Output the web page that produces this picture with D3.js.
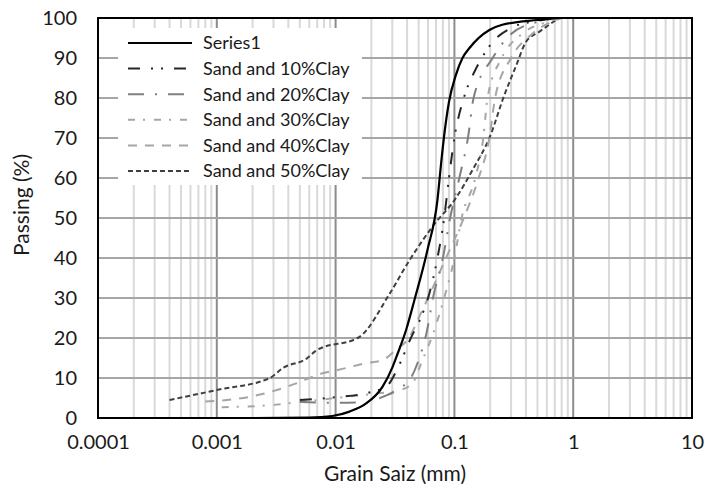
<!DOCTYPE html>
<html>
<head>
<meta charset="utf-8">
<script src="https://cdn.jsdelivr.net/npm/d3@7"></script>
<style>
  html, body { margin: 0; padding: 0; background: #fff; }
  svg { display: block; }
  text { font-family: Lato, "Open Sans", sans-serif; fill: #1a1a1a; }
</style>
</head>
<body>
<svg id="chart" width="705" height="490"></svg>
<script>
// ---- data (grain size in mm, percent passing) ----
const seriesNames = ["Series1", "Sand and 10%Clay", "Sand and 20%Clay", "Sand and 30%Clay", "Sand and 40%Clay", "Sand and 50%Clay"];

const series1 = [[0.002,0],[0.006,0.1],[0.0094,0.5],[0.0131,1.6],[0.0182,3.7],[0.0248,7.8],[0.0302,12.8],[0.0332,16],[0.0392,22],[0.0461,29.5],[0.0593,42],[0.072,54.5],[0.0775,64],[0.0823,71],[0.09,79],[0.103,85.8],[0.117,90],[0.134,92.5],[0.197,97],[0.253,98.3],[0.5,99.5],[0.76,100],[4.75,100]];
const clay10 = [[0.005,4.5],[0.01,5.2],[0.02,6.5],[0.027,8],[0.034,13],[0.043,20],[0.052,25],[0.06,30],[0.072,40],[0.082,50],[0.09,60],[0.1,70],[0.12,80],[0.15,87],[0.17,90],[0.21,94],[0.3,97.5],[0.5,99.3],[0.8,100]];
const clay20 = [[0.005,4],[0.01,3.8],[0.018,4],[0.026,5.5],[0.035,7.5],[0.043,10],[0.052,16],[0.058,21],[0.066,30],[0.08,40],[0.092,50],[0.11,60],[0.13,70],[0.145,80],[0.21,90],[0.3,96],[0.5,99],[0.8,100]];
const clay30 = [[0.0011,2.7],[0.0028,3.2],[0.005,4],[0.01,5],[0.02,6],[0.035,7],[0.045,9],[0.053,14],[0.066,21],[0.082,30],[0.1,40],[0.115,50],[0.15,60],[0.175,70],[0.19,80],[0.25,90],[0.37,96],[0.6,99],[0.8,100]];
const clay40 = [[0.0008,4.1],[0.0019,5.3],[0.0032,7],[0.0047,8.7],[0.0078,11.2],[0.0104,12],[0.018,13.7],[0.025,14.5],[0.032,17],[0.042,20.3],[0.05,25],[0.06,30],[0.085,40],[0.12,50],[0.16,60],[0.197,70],[0.22,80],[0.3,90],[0.45,96],[0.65,99],[0.8,100]];
const clay50 = [[0.0004,4.5],[0.001,7],[0.0028,10],[0.0036,12.5],[0.0058,15],[0.0068,16.8],[0.0159,20.3],[0.0284,31],[0.042,39.5],[0.066,48],[0.103,55],[0.142,62],[0.2,70.5],[0.263,80.7],[0.33,88],[0.4,94],[0.52,96.6],[0.76,100]];

const xTicks = [0.0001, 0.001, 0.01, 0.1, 1, 10];
const xTickLabels = ["0.0001", "0.001", "0.01", "0.1", "1", "10"];
const yTicks = [0, 10, 20, 30, 40, 50, 60, 70, 80, 90, 100];

// ---- styles ----
const styles = [
  { color: "#000000", dash: null, width: 2.2 },
  { color: "#262626", dash: "12,11,2,8,2,11", width: 2 },
  { color: "#7f7f7f", dash: "16,11,2,11", width: 2 },
  { color: "#a6a6a6", dash: "7,8,2,9", width: 2 },
  { color: "#a6a6a6", dash: "9,8", width: 2 },
  { color: "#404040", dash: "5,3", width: 2 }
];
const allSeries = [series1, clay10, clay20, clay30, clay40, clay50];

const svg = d3.select("#chart");
const L = 98, R = 692, T = 18, B = 418;
const x = d3.scaleLog().domain([1e-4, 10]).range([L, R]);
const y = d3.scaleLinear().domain([0, 100]).range([B, T]);

// minor vertical grid
const minors = [];
for (let e = -4; e < 1; e++) for (let m = 2; m <= 9; m++) minors.push(m * Math.pow(10, e));
svg.append("g").selectAll("line").data(minors).join("line")
  .attr("x1", d => x(d)).attr("x2", d => x(d)).attr("y1", T).attr("y2", B)
  .attr("stroke", "#d9d9d9").attr("stroke-width", 2);
// major vertical grid
svg.append("g").selectAll("line").data(xTicks.slice(1, -1)).join("line")
  .attr("x1", d => x(d)).attr("x2", d => x(d)).attr("y1", T).attr("y2", B)
  .attr("stroke", "#8c8c8c").attr("stroke-width", 2);
// horizontal grid
svg.append("g").selectAll("line").data(yTicks.slice(1, -1)).join("line")
  .attr("x1", L).attr("x2", R).attr("y1", d => y(d)).attr("y2", d => y(d))
  .attr("stroke", "#a6a6a6").attr("stroke-width", 2);

// legend background
svg.append("rect").attr("x", 118).attr("y", 28).attr("width", 244).attr("height", 157).attr("fill", "#fff");

// series lines
const line = d3.line().x(d => x(d[0])).y(d => y(d[1])).curve(d3.curveMonotoneX);
const order = [5, 4, 3, 2, 1, 0];
order.forEach(i => {
  svg.append("path").datum(allSeries[i]).attr("d", line)
    .attr("fill", "none").attr("stroke", styles[i].color)
    .attr("stroke-width", styles[i].width)
    .attr("stroke-dasharray", styles[i].dash)
    .attr("stroke-linejoin", "round");
});

// plot border
svg.append("rect").attr("x", L).attr("y", T).attr("width", R - L).attr("height", B - T)
  .attr("fill", "none").attr("stroke", "#000").attr("stroke-width", 2);

// axes (labels only)
const xAxis = d3.axisBottom(x).tickValues(xTicks).tickFormat((d, i) => xTickLabels[i]).tickSize(0).tickPadding(0);
const gx = svg.append("g").attr("transform", `translate(0,${B + 17})`).call(xAxis);
gx.select(".domain").remove();
gx.selectAll("text").attr("font-size", 20).attr("font-family", "Lato").attr("fill", "#1a1a1a").attr("dy", "0.71em");

const yAxis = d3.axisLeft(y).tickValues(yTicks).tickSize(0).tickPadding(0);
const gy = svg.append("g").attr("transform", `translate(${L - 21},0)`).call(yAxis);
gy.select(".domain").remove();
gy.selectAll("text").attr("font-size", 20).attr("font-family", "Lato").attr("fill", "#1a1a1a");

// axis titles
svg.append("text").attr("x", (L + R) / 2).attr("y", 481).attr("text-anchor", "middle")
  .attr("font-size", 21).text("Grain Saiz (mm)");
svg.append("text").attr("transform", "translate(29,205) rotate(-90)").attr("text-anchor", "middle")
  .attr("font-size", 21).text("Passing (%)");

// legend
const lg = svg.append("g");
seriesNames.forEach((name, i) => {
  const ly = 43 + i * 25.6;
  lg.append("line").attr("x1", 128).attr("x2", 192).attr("y1", ly).attr("y2", ly)
    .attr("stroke", styles[i].color).attr("stroke-width", styles[i].width)
    .attr("stroke-dasharray", styles[i].dash);
  lg.append("text").attr("x", 203).attr("y", ly).attr("dy", "0.35em")
    .attr("font-size", 18).text(name);
});
</script>
</body>
</html>
